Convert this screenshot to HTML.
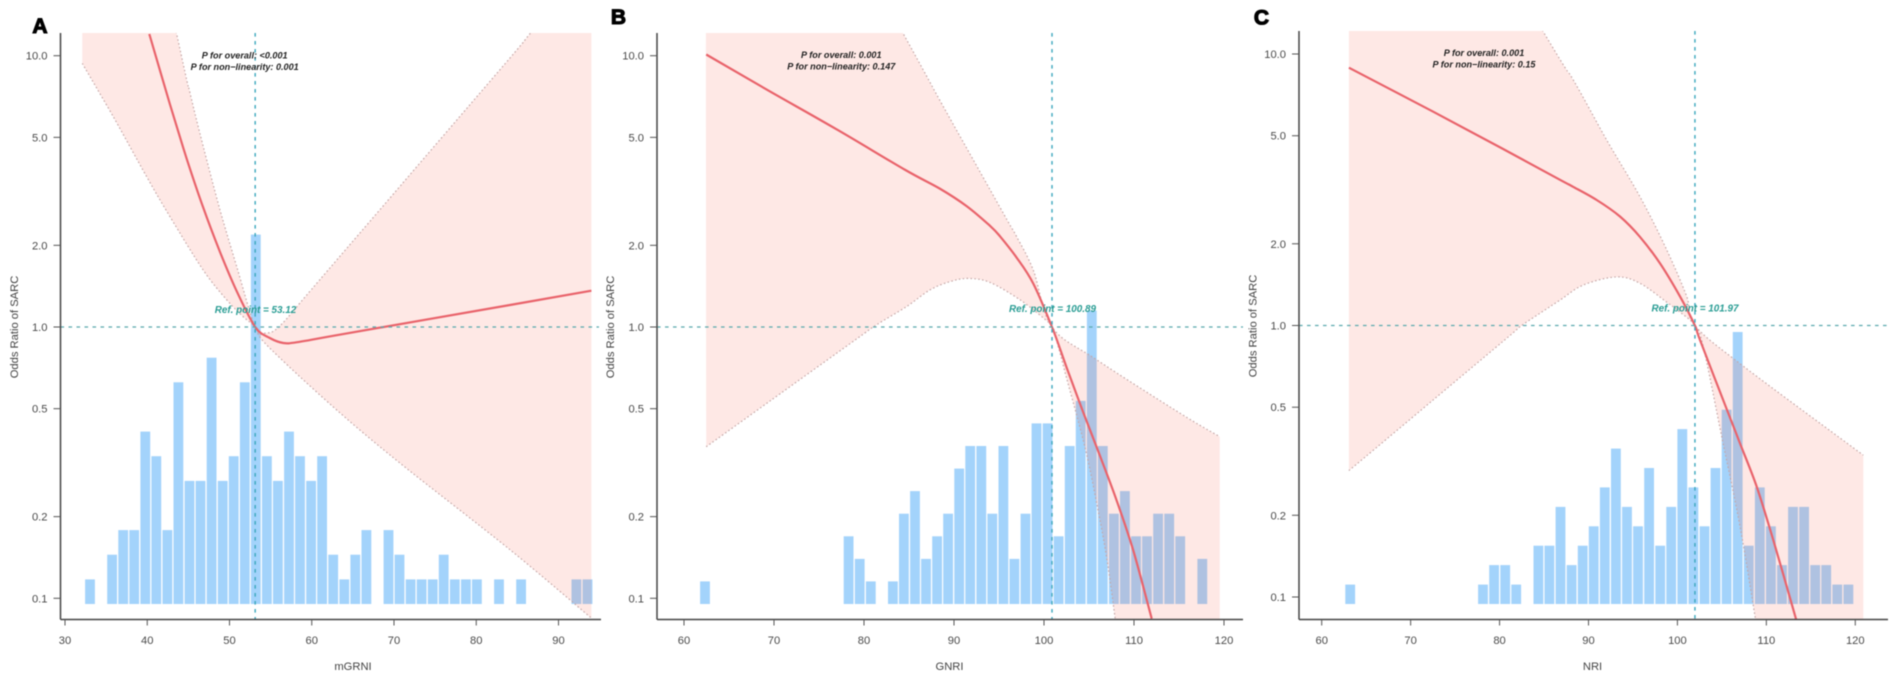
<!DOCTYPE html>
<html lang="en">
<head>
<meta charset="utf-8">
<title>Odds Ratio of SARC: mGRNI, GNRI, NRI</title>
<style>
html,body{margin:0;padding:0;background:#fff;width:1902px;height:681px;overflow:hidden}
svg{display:block;filter:blur(0.45px)}
text{font-family:"Liberation Sans",Arial,sans-serif}
.tick{font-size:11.2px;fill:#4a4a4a}
.axt{font-size:11.2px;fill:#444}
.pv{font-size:9.1px;font-weight:bold;font-style:italic;fill:#222;text-anchor:middle}
.ref{font-size:9.9px;font-weight:bold;font-style:italic;fill:#2a9d94;text-anchor:middle}
.let{font-size:21px;font-weight:bold;fill:#000;stroke:#000;stroke-width:1.1px;text-anchor:middle}
</style>
</head>
<body>
<svg id="chart" xmlns="http://www.w3.org/2000/svg" width="1902" height="681" viewBox="0 0 1902 681">
  <rect width="1902" height="681" fill="#fff"/>
  <g id="panel-a"></g>
  <g id="panel-b"></g>
  <g id="panel-c"></g>

  <text class="let" x="40" y="33">A</text>
  <text class="let" x="618.5" y="24">B</text>
  <text class="let" x="1261.5" y="24.5">C</text>

  <text class="axt" transform="translate(18,327) rotate(-90)" text-anchor="middle">Odds Ratio of SARC</text>
  <text class="axt" transform="translate(614,327) rotate(-90)" text-anchor="middle">Odds Ratio of SARC</text>
  <text class="axt" transform="translate(1256.5,326) rotate(-90)" text-anchor="middle">Odds Ratio of SARC</text>

  <text class="axt" x="353" y="670" text-anchor="middle">mGRNI</text>
  <text class="axt" x="949.5" y="670" text-anchor="middle">GNRI</text>
  <text class="axt" x="1592.5" y="670" text-anchor="middle">NRI</text>

  <text class="pv" x="244.7" y="58.5">P for overall: &lt;0.001</text>
  <text class="pv" x="244.7" y="70">P for non−linearity: 0.001</text>
  <text class="pv" x="841.3" y="58">P for overall: 0.001</text>
  <text class="pv" x="841.3" y="69.5">P for non−linearity: 0.147</text>
  <text class="pv" x="1484" y="56">P for overall: 0.001</text>
  <text class="pv" x="1484" y="67.5">P for non−linearity: 0.15</text>

  <text class="ref" x="255.5" y="313">Ref. point = 53.12</text>
  <text class="ref" x="1052.5" y="312">Ref. point = 100.89</text>
  <text class="ref" x="1695" y="311.5">Ref. point = 101.97</text>
</svg>

<script>
// Shared axis tick values
const yTickValues = [10, 5, 2, 1, 0.5, 0.2, 0.1];
const yTickLabels = ['10.0', '5.0', '2.0', '1.0', '0.5', '0.2', '0.1'];

// Panel A: mGRNI
const aXTicks = [30, 40, 50, 60, 70, 80, 90];
const aRefPoint = 53.12;
const aBinFirstCentre = 33.04;
const aBinWidth = 1.344;
const aCounts = [1,0,2,3,3,7,6,3,9,5,5,10,5,6,9,15,6,5,7,6,5,6,2,1,2,3,0,3,2,1,1,1,2,1,1,1,0,1,0,1,0,0,0,0,1,1];
const aCurveX = [40.25,42.77,44.8,46.81,48.85,50.88,53.12,54.9,56.54,58.45,64,84.1,94];
const aCurveOR = [12.02,6.61,4.17,2.75,1.89,1.355,1,0.911,0.873,0.881,0.944,1.205,1.361];
const aUpperX = [32.1,43.58,45.2,46.81,48.85,50.88,53.12,54.44,56.14,60,70,84.1,86.58,94];
const aUpperOR = [490,12,7.29,4.62,2.7,1.67,1,0.95,1.01,1.38,3.11,9.81,12.1,22.9];
const aLowerX = [32.1,35.87,39.93,42.77,46.81,49.66,51.68,53.12,54.52,62.6,70.73,84.1,94];
const aLowerOR = [9.37,5.96,3.58,2.55,1.62,1.26,1.09,1,0.858,0.508,0.315,0.151,0.0845];

// Panel B: GNRI
const bXTicks = [60, 70, 80, 90, 100, 110, 120];
const bRefPoint = 100.89;
const bBinFirstCentre = 62.33;
const bBinWidth = 1.228;
const bCounts = [1,0,0,0,0,0,0,0,0,0,0,0,0,3,2,1,0,1,4,5,2,3,4,6,7,7,4,7,2,4,8,8,3,7,9,13,7,4,5,3,3,4,4,3,0,2];
const bCurveX = [62.47,69.6,77.1,84.6,88.4,91.4,94,95.11,96.97,98.81,100.89,102.52,104.37,106.22,108.08,109.92,111.97];
const bCurveOR = [10.1,7.37,5.32,3.79,3.24,2.79,2.36,2.16,1.8,1.445,1,0.708,0.484,0.335,0.229,0.15,0.0841];
const bUpperX = [62.4,84.33,88.4,92.14,95.9,96.97,98.81,100.89,105.89,115.11,119.52];
const bUpperOR = [251,12.1,6.87,4.13,2.48,2.15,1.62,1,0.756,0.481,0.394];
const bLowerX = [62.47,69.6,79,81.41,84.74,87.33,89.56,91.59,94,97.33,99.92,100.89,101.59,102.52,103.63,104.74,105.86,106.97,107.89,108.2];
const bLowerOR = [0.362,0.535,0.895,1.02,1.19,1.37,1.47,1.51,1.46,1.26,1.08,1,0.846,0.646,0.473,0.339,0.224,0.141,0.0851,0.0716];

// Panel C: NRI
const cXTicks = [60, 70, 80, 90, 100, 110, 120];
const cRefPoint = 101.97;
const cBinFirstCentre = 63.2;
const cBinWidth = 1.245;
const cCounts = [1,0,0,0,0,0,0,0,0,0,0,0,1,2,2,1,0,3,3,5,2,3,4,6,8,5,4,7,3,5,9,6,4,7,10,14,3,6,4,2,5,5,2,2,1,1];
const cCurveX = [63.06,72.54,80.27,86.8,88.29,90.92,93.54,95.79,98.06,100.29,101.97,102.54,105.53,107.04,108.91,110.78,113.35];
const cCurveOR = [8.9,6.13,4.49,3.44,3.24,2.9,2.52,2.12,1.69,1.28,1,0.884,0.493,0.368,0.255,0.162,0.0828];
const cUpperX = [63.06,84.9,88.29,92.05,95.79,98.79,101.04,101.97,107.49,120.9];
const cUpperOR = [193,12.1,8.02,4.82,2.98,1.9,1.28,1,0.705,0.333];
const cLowerX = [63.06,72.54,81.05,82.3,84.55,86.8,89.42,93.17,95.79,98.79,100.29,101.97,102.91,104.98,107.04,108.73,109];
const cLowerOR = [0.292,0.532,0.912,0.99,1.11,1.24,1.41,1.51,1.43,1.22,1.12,1,0.835,0.39,0.182,0.0846,0.0746];

const SVG_NS = 'http://www.w3.org/2000/svg';

function make(parent, tag, attrs) {
  const el = document.createElementNS(SVG_NS, tag);
  for (const k in attrs) el.setAttribute(k, attrs[k]);
  parent.appendChild(el);
  return el;
}

// Smooth path through pixel points (Catmull-Rom converted to cubic Beziers)
function smoothSegments(pts) {
  let d = '';
  for (let i = 0; i < pts.length - 1; i++) {
    const p0 = pts[Math.max(i - 1, 0)];
    const p1 = pts[i];
    const p2 = pts[i + 1];
    const p3 = pts[Math.min(i + 2, pts.length - 1)];
    const c1x = p1[0] + (p2[0] - p0[0]) / 6;
    const c1y = p1[1] + (p2[1] - p0[1]) / 6;
    const c2x = p2[0] - (p3[0] - p1[0]) / 6;
    const c2y = p2[1] - (p3[1] - p1[1]) / 6;
    d += 'C' + c1x.toFixed(1) + ' ' + c1y.toFixed(1) + ' ' + c2x.toFixed(1) + ' ' + c2y.toFixed(1) + ' ' + p2[0].toFixed(1) + ' ' + p2[1].toFixed(1);
  }
  return d;
}

function start(p) {
  return 'M' + p[0].toFixed(1) + ' ' + p[1].toFixed(1);
}

function drawPanel(id, g) {
  const root = document.getElementById('panel-' + id);
  const xScale = v => g.x0 + (v - g.xBase) * g.xPer;
  const yScale = v => g.y1 - Math.log10(v) * g.yPer;
  const countScale = n => g.barBase - n * g.countPx;
  const toPts = (xs, ys) => xs.map((x, i) => [xScale(x), yScale(ys[i])]);

  const clip = make(root, 'clipPath', {id: 'clip-' + id});
  make(clip, 'rect', {x: g.axisLeft, y: g.axisTop, width: g.axisRight - g.axisLeft, height: g.clipBottom - g.axisTop});

  // Histogram bars
  const bars = make(root, 'g', {});
  
  
  g.counts.forEach((n, i) => {
    if (!n) return;
    const c = xScale(g.binFirst + i * g.binWidth);
    const r = make(bars, 'rect', {x: (c - 4.9).toFixed(1), y: countScale(n).toFixed(1), width: 9.8, height: (g.barBase - countScale(n)).toFixed(1), fill: '#a3d3fb'});
    
    
  });

  // Confidence band: the lower limit leaves the plot through the x-axis,
  // so the band closes via a corner below the right end of the upper limit.
  const upper = toPts(g.upperX, g.upperOR);
  const lower = toPts(g.lowerX, g.lowerOR);
  const lowerRev = lower.slice().reverse();
  const upperEnd = upper[upper.length - 1];
  const clipped = make(root, 'g', {'clip-path': 'url(#clip-' + id + ')'});
  const band = make(clipped, 'path', {
    d: start(upper[0]) + smoothSegments(upper) +
       'L' + upperEnd[0].toFixed(1) + ' ' + lowerRev[0][1].toFixed(1) +
       'L' + lowerRev[0][0].toFixed(1) + ' ' + lowerRev[0][1].toFixed(1) +
       smoothSegments(lowerRev) + 'Z',
    fill: 'rgba(248,90,70,0.14)', stroke: 'none'
  });
  
  

  const upperEdge = make(clipped, 'path', {d: start(upper[0]) + smoothSegments(upper), fill: 'none', stroke: '#c4a6a6', 'stroke-width': 1.2, 'stroke-dasharray': '1.5 2.4'});
  
  

  const lowerEdge = make(clipped, 'path', {d: start(lower[0]) + smoothSegments(lower), fill: 'none', stroke: '#c4a6a6', 'stroke-width': 1.2, 'stroke-dasharray': '1.5 2.4'});
  
  

  // Reference lines
  const hRef = make(root, 'line', {x1: g.axisLeft, x2: g.hRight, y1: yScale(1), y2: yScale(1), stroke: '#5aa9ad', 'stroke-width': 1.3, 'stroke-dasharray': '3.6 4.4'});
  
  

  const vRef = make(root, 'line', {x1: xScale(g.ref), x2: xScale(g.ref), y1: g.axisTop, y2: g.axisBottom, stroke: '#3ba7bd', 'stroke-width': 1.4, 'stroke-dasharray': '3.6 4.4'});
  
  

  // Main curve
  const curve = toPts(g.curveX, g.curveOR);
  const line = make(clipped, 'path', {d: start(curve[0]) + smoothSegments(curve), fill: 'none', stroke: '#e9636b', 'stroke-width': 2.2});
  
  

  // Axes
  const yAxis = make(root, 'line', {x1: g.axisLeft, x2: g.axisLeft, y1: g.axisTop, y2: g.axisBottom, stroke: '#444', 'stroke-width': 1.5});
  
  

  const xAxis = make(root, 'line', {x1: g.axisLeft, x2: g.axisRight, y1: g.axisBottom, y2: g.axisBottom, stroke: '#444', 'stroke-width': 1.5});
  
  

  yTickValues.forEach((v, i) => {
    const y = yScale(v);
    const t = make(root, 'line', {x1: g.axisLeft - 7, x2: g.axisLeft, y1: y, y2: y, stroke: '#555', 'stroke-width': 1});
    
    
    const lab = make(root, 'text', {x: g.axisLeft - 13, y: y + 4, 'text-anchor': 'end', class: 'tick'});
    lab.textContent = yTickLabels[i];
    
    
  });

  g.xTicks.forEach(v => {
    const x = xScale(v);
    const t = make(root, 'line', {x1: x, x2: x, y1: g.axisBottom, y2: g.axisBottom + 6, stroke: '#555', 'stroke-width': 1});
    
    
    const lab = make(root, 'text', {x: x, y: 644, 'text-anchor': 'middle', class: 'tick'});
    lab.textContent = String(v);
    
    
  });
}

drawPanel('a', {
  x0: 65, xBase: 30, xPer: 8.225, y1: 327, yPer: 271.3,
  axisLeft: 60.5, axisRight: 601, axisTop: 33, axisBottom: 619.5, clipBottom: 618, hRight: 599,
  barBase: 604, countPx: 24.63,
  counts: aCounts, binFirst: aBinFirstCentre, binWidth: aBinWidth, xTicks: aXTicks, ref: aRefPoint,
  curveX: aCurveX, curveOR: aCurveOR, upperX: aUpperX, upperOR: aUpperOR, lowerX: aLowerX, lowerOR: aLowerOR
});

drawPanel('b', {
  x0: 684, xBase: 60, xPer: 9, y1: 327, yPer: 271.3,
  axisLeft: 657, axisRight: 1243, axisTop: 33, axisBottom: 619.5, clipBottom: 619, hRight: 1243,
  barBase: 604, countPx: 22.57,
  counts: bCounts, binFirst: bBinFirstCentre, binWidth: bBinWidth, xTicks: bXTicks, ref: bRefPoint,
  curveX: bCurveX, curveOR: bCurveOR, upperX: bUpperX, upperOR: bUpperOR, lowerX: bLowerX, lowerOR: bLowerOR
});

drawPanel('c', {
  x0: 1321.7, xBase: 60, xPer: 8.893, y1: 325.5, yPer: 271.5,
  axisLeft: 1299, axisRight: 1888, axisTop: 31, axisBottom: 619.5, clipBottom: 619, hRight: 1888,
  barBase: 604, countPx: 19.43,
  counts: cCounts, binFirst: cBinFirstCentre, binWidth: cBinWidth, xTicks: cXTicks, ref: cRefPoint,
  curveX: cCurveX, curveOR: cCurveOR, upperX: cUpperX, upperOR: cUpperOR, lowerX: cLowerX, lowerOR: cLowerOR
});
</script>
</body>
</html>
